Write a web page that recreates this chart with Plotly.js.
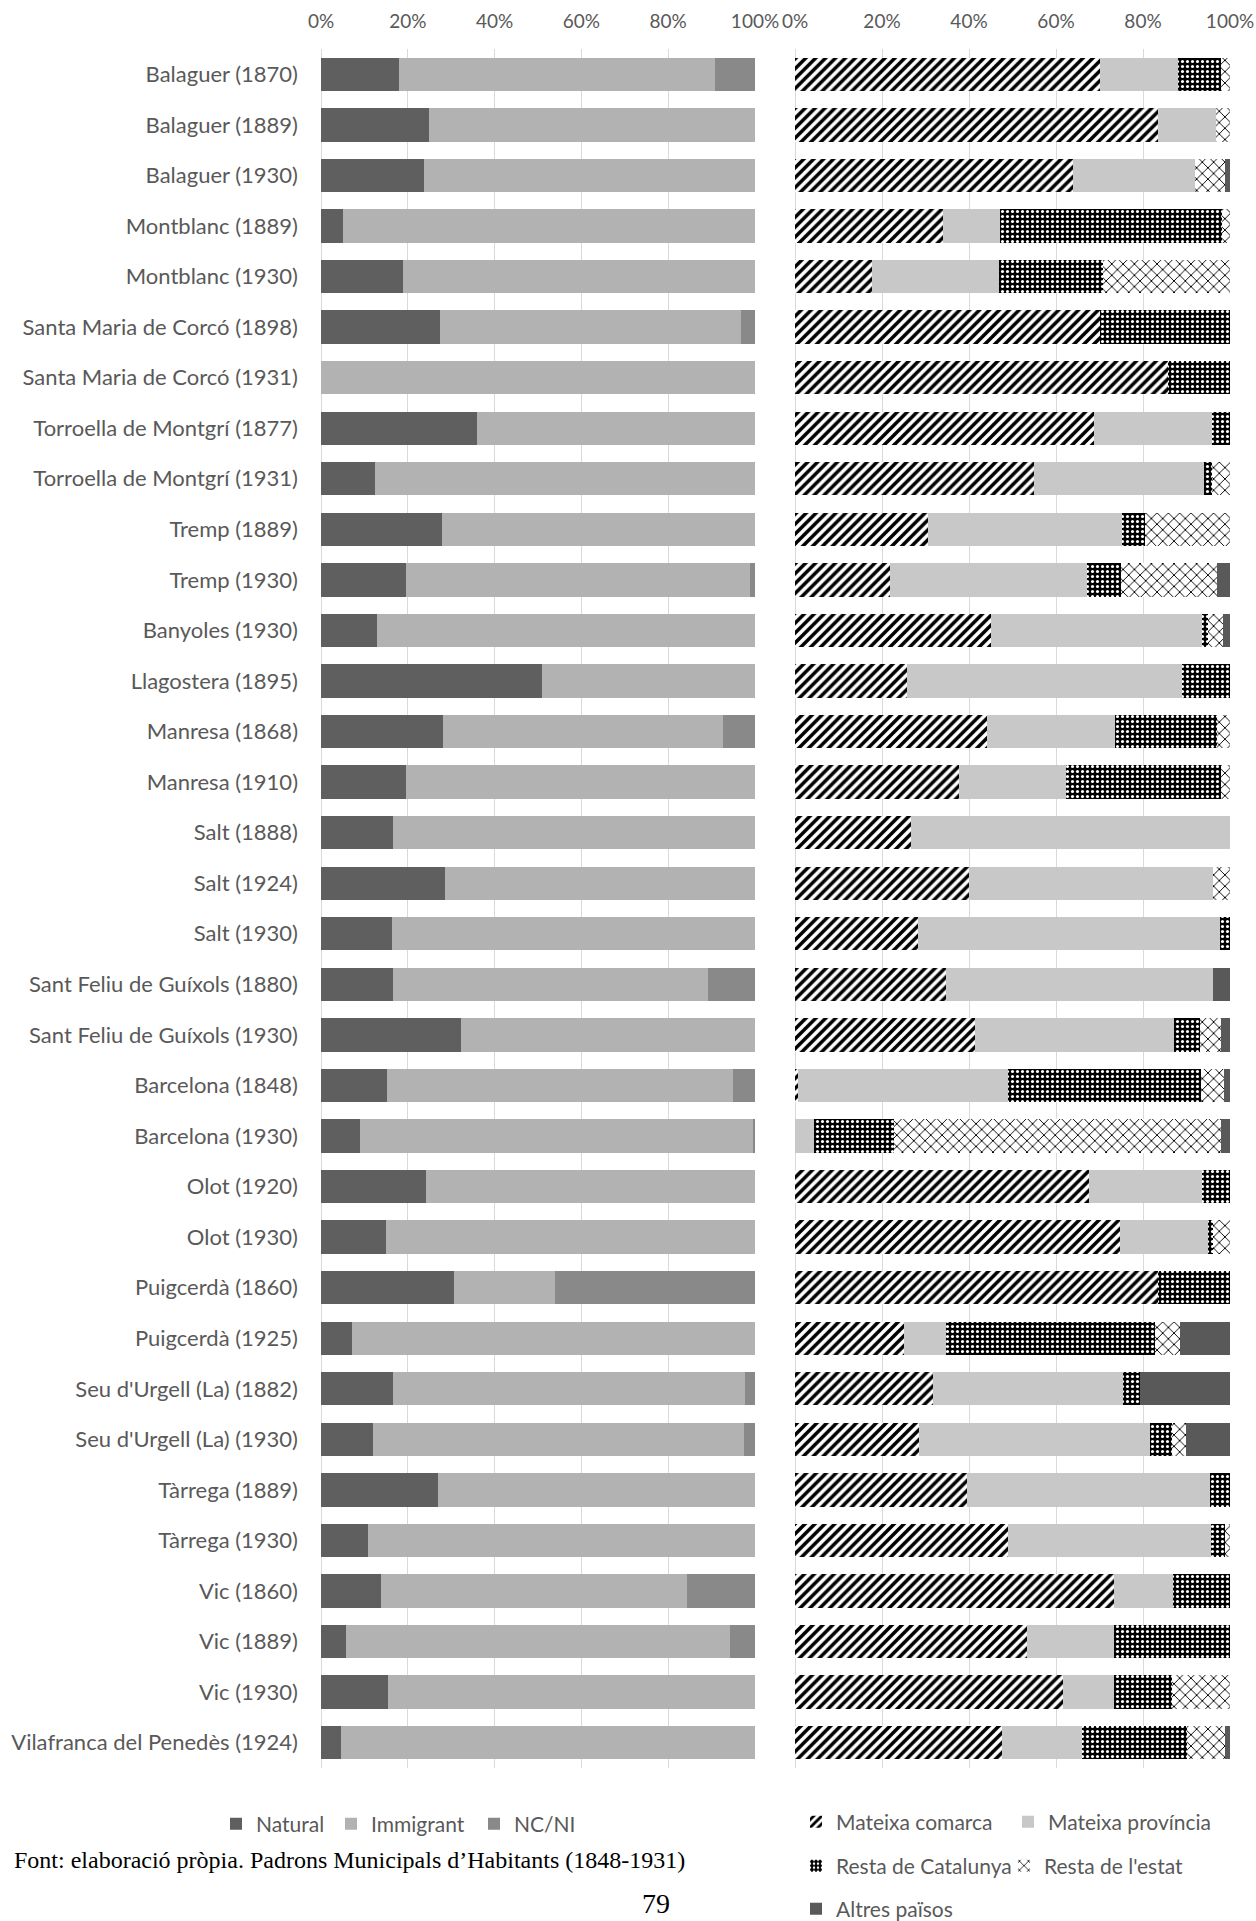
<!DOCTYPE html>
<html>
<head>
<meta charset="utf-8">
<script src="https://cdn.plot.ly/plotly-3.0.1.min.js"></script>
<style>
  html, body { margin: 0; padding: 0; background: #ffffff; }
  #chart { width: 1256px; height: 1921px; }
</style>
</head>
<body>
<div id="chart"></div>
<script>
const categories = [
  "Balaguer (1870)", "Balaguer (1889)", "Balaguer (1930)", "Montblanc (1889)", "Montblanc (1930)",
  "Santa Maria de Corcó (1898)", "Santa Maria de Corcó (1931)", "Torroella de Montgrí (1877)",
  "Torroella de Montgrí (1931)", "Tremp (1889)", "Tremp (1930)", "Banyoles (1930)", "Llagostera (1895)",
  "Manresa (1868)", "Manresa (1910)", "Salt (1888)", "Salt (1924)", "Salt (1930)",
  "Sant Feliu de Guíxols (1880)", "Sant Feliu de Guíxols (1930)", "Barcelona (1848)", "Barcelona (1930)",
  "Olot (1920)", "Olot (1930)", "Puigcerdà (1860)", "Puigcerdà (1925)", "Seu d'Urgell (La) (1882)",
  "Seu d'Urgell (La) (1930)", "Tàrrega (1889)", "Tàrrega (1930)", "Vic (1860)", "Vic (1889)",
  "Vic (1930)", "Vilafranca del Penedès (1924)"
];

// Left chart (%)
const natural = [18.0, 24.9, 23.7, 5.1, 18.9, 27.5, 0, 35.9, 12.4, 27.9, 19.6, 12.9, 50.9, 28.2, 19.6, 16.6, 28.5, 16.3, 16.6, 32.2, 15.3, 8.9, 24.3, 15.0, 30.6, 7.1, 16.7, 12.0, 26.9, 10.8, 13.8, 5.8, 15.4, 4.5];
const immigrant = [72.7, 75.1, 76.3, 94.9, 81.1, 69.2, 100, 64.1, 87.6, 72.1, 79.3, 87.1, 49.1, 64.4, 80.4, 83.4, 71.5, 83.7, 72.5, 67.8, 79.6, 90.6, 75.7, 85.0, 23.3, 92.9, 81.0, 85.5, 73.1, 89.2, 70.5, 88.4, 84.6, 95.5];
const ncni = [9.3, 0, 0, 0, 0, 3.3, 0, 0, 0, 0, 1.1, 0, 0, 7.4, 0, 0, 0, 0, 10.9, 0, 5.1, 0.5, 0, 0, 46.1, 0, 2.3, 2.5, 0, 0, 15.7, 5.8, 0, 0];

// Right chart (%)
const comarca = [70.1, 83.4, 64.0, 34.0, 17.6, 70.1, 85.7, 68.8, 55.0, 30.6, 21.9, 45.0, 25.8, 44.1, 37.7, 26.6, 40.0, 28.2, 34.6, 41.3, 0.6, 0, 67.7, 74.7, 83.5, 25.0, 31.7, 28.6, 39.6, 48.9, 73.4, 53.4, 61.7, 47.6];
const provincia = [18.0, 13.3, 27.9, 13.2, 29.4, 0, 0, 27.1, 39.0, 44.5, 45.3, 48.5, 63.2, 29.5, 24.6, 73.4, 56.0, 69.6, 61.6, 45.8, 48.4, 4.3, 25.9, 20.3, 0, 9.8, 43.6, 53.1, 55.8, 46.7, 13.4, 20.0, 11.7, 18.4];
const catalunya = [9.8, 0, 0, 50.9, 23.7, 29.9, 14.3, 4.1, 1.8, 5.4, 7.8, 1.4, 11.0, 23.4, 35.6, 0, 0, 2.2, 0, 6.1, 44.3, 18.5, 6.4, 1.0, 16.5, 48.0, 3.9, 5.0, 4.6, 3.3, 13.2, 26.6, 13.2, 24.2];
const estat = [2.1, 3.3, 7.0, 1.9, 29.3, 0, 0, 0, 4.2, 19.5, 21.9, 3.6, 0, 3.0, 2.1, 0, 4.0, 0, 0, 4.7, 5.4, 75.1, 0, 4.0, 0, 5.6, 0, 3.1, 0, 1.1, 0, 0, 13.4, 8.7];
const altres = [0, 0, 1.1, 0, 0, 0, 0, 0, 0, 0, 3.1, 1.5, 0, 0, 0, 0, 0, 0, 3.8, 2.1, 1.3, 2.1, 0, 0, 0, 11.6, 20.8, 10.2, 0, 0, 0, 0, 0, 1.1];

const tickVals = [0, 20, 40, 60, 80, 100];
const tickText = ["0%", "20%", "40%", "60%", "80%", "100%"];

const FONT = "Lato, 'Open Sans', sans-serif";
const TXT = "#595959";

function bar(name, x, xaxis, color, legend, pattern) {
  const t = {
    type: "bar", orientation: "h", name: name, x: x, y: categories,
    xaxis: xaxis, yaxis: "y", legend: legend,
    marker: { color: color, line: { width: 0 } },
    hoverinfo: "skip"
  };
  if (pattern) t.marker.pattern = pattern;
  return t;
}

const traces = [
  bar("Natural", natural, "x", "#5f5f5f", "legend"),
  bar("Immigrant", immigrant, "x", "#b2b2b2", "legend2"),
  bar("NC/NI", ncni, "x", "#898989", "legend3"),
  bar("Mateixa comarca", comarca, "x2", "#000000", "legend4",
      { shape: "/", fgcolor: "#000000", bgcolor: "#ffffff", size: 7, solidity: 0.5, fillmode: "replace" }),
  bar("Mateixa província", provincia, "x2", "#c8c8c8", "legend5"),
  bar("Resta de Catalunya", catalunya, "x2", "#000000", "legend6",
      { shape: ".", fgcolor: "#ffffff", bgcolor: "#000000", size: 5, solidity: 0.3, fillmode: "replace" }),
  bar("Resta de l'estat", estat, "x2", "#000000", "legend7",
      { shape: "x", fgcolor: "#000000", bgcolor: "#ffffff", size: 8, solidity: 0.22, fillmode: "replace" }),
  bar("Altres països", altres, "x2", "#595959", "legend8")
];

const W = 1256, H = 1921;
const px = v => v / W;
const py = v => 1 - v / H;

const xaxisCommon = {
  range: [0, 100], side: "top", tickvals: tickVals, ticktext: tickText,
  showgrid: true, gridcolor: "#d9d9d9", gridwidth: 1,
  zeroline: true, zerolinecolor: "#d9d9d9", zerolinewidth: 1,
  showline: false, ticks: "", fixedrange: true,
  tickfont: { family: FONT, size: 19, color: TXT }, ticklabelstandoff: 16
};

const legendCommon = {
  orientation: "h", xanchor: "left", yanchor: "middle",
  font: { family: FONT, size: 21, color: TXT }, bgcolor: "rgba(0,0,0,0)",
  traceorder: "normal", itemclick: false, itemdoubleclick: false
};
function leg(textX, centerY) {
  return Object.assign({}, legendCommon, { x: px(textX - 40), y: py(centerY) });
}

const layout = {
  width: W, height: H,
  margin: { l: 0, r: 0, t: 0, b: 0, autoexpand: false },
  paper_bgcolor: "#ffffff", plot_bgcolor: "#ffffff",
  barmode: "stack", bargap: 0.34,
  font: { family: FONT, color: TXT },
  xaxis: Object.assign({}, xaxisCommon, { domain: [px(321), px(755)], anchor: "y" }),
  xaxis2: Object.assign({}, xaxisCommon, { domain: [px(795), px(1230)], anchor: "y" }),
  yaxis: {
    domain: [py(1768), py(49)], type: "category", categoryorder: "array", categoryarray: categories,
    autorange: "reversed", showgrid: false, zeroline: false, showline: false, ticks: "",
    tickfont: { family: FONT, size: 22, color: TXT }, ticklabelstandoff: 22, fixedrange: true
  },
  showlegend: true,
  legend: leg(256, 1824),
  legend2: leg(371, 1824),
  legend3: leg(514, 1824),
  legend4: leg(836, 1822),
  legend5: leg(1048, 1822),
  legend6: leg(836, 1866),
  legend7: leg(1044, 1866),
  legend8: leg(836, 1909),
  annotations: [
    {
      text: "Font: elaboració pròpia. Padrons Municipals d’Habitants (1848-1931)",
      xref: "paper", yref: "paper", x: px(12), y: py(1860), xanchor: "left", yanchor: "middle",
      showarrow: false, font: { family: "'Liberation Serif', 'DejaVu Serif', serif", size: 24, color: "#000000" }
    },
    {
      text: "79",
      xref: "paper", yref: "paper", x: px(656), y: py(1903), xanchor: "center", yanchor: "middle",
      showarrow: false, font: { family: "'Liberation Serif', 'DejaVu Serif', serif", size: 28, color: "#000000" }
    }
  ]
};

Plotly.newPlot("chart", traces, layout, { displayModeBar: false, staticPlot: true });
</script>
</body>
</html>
